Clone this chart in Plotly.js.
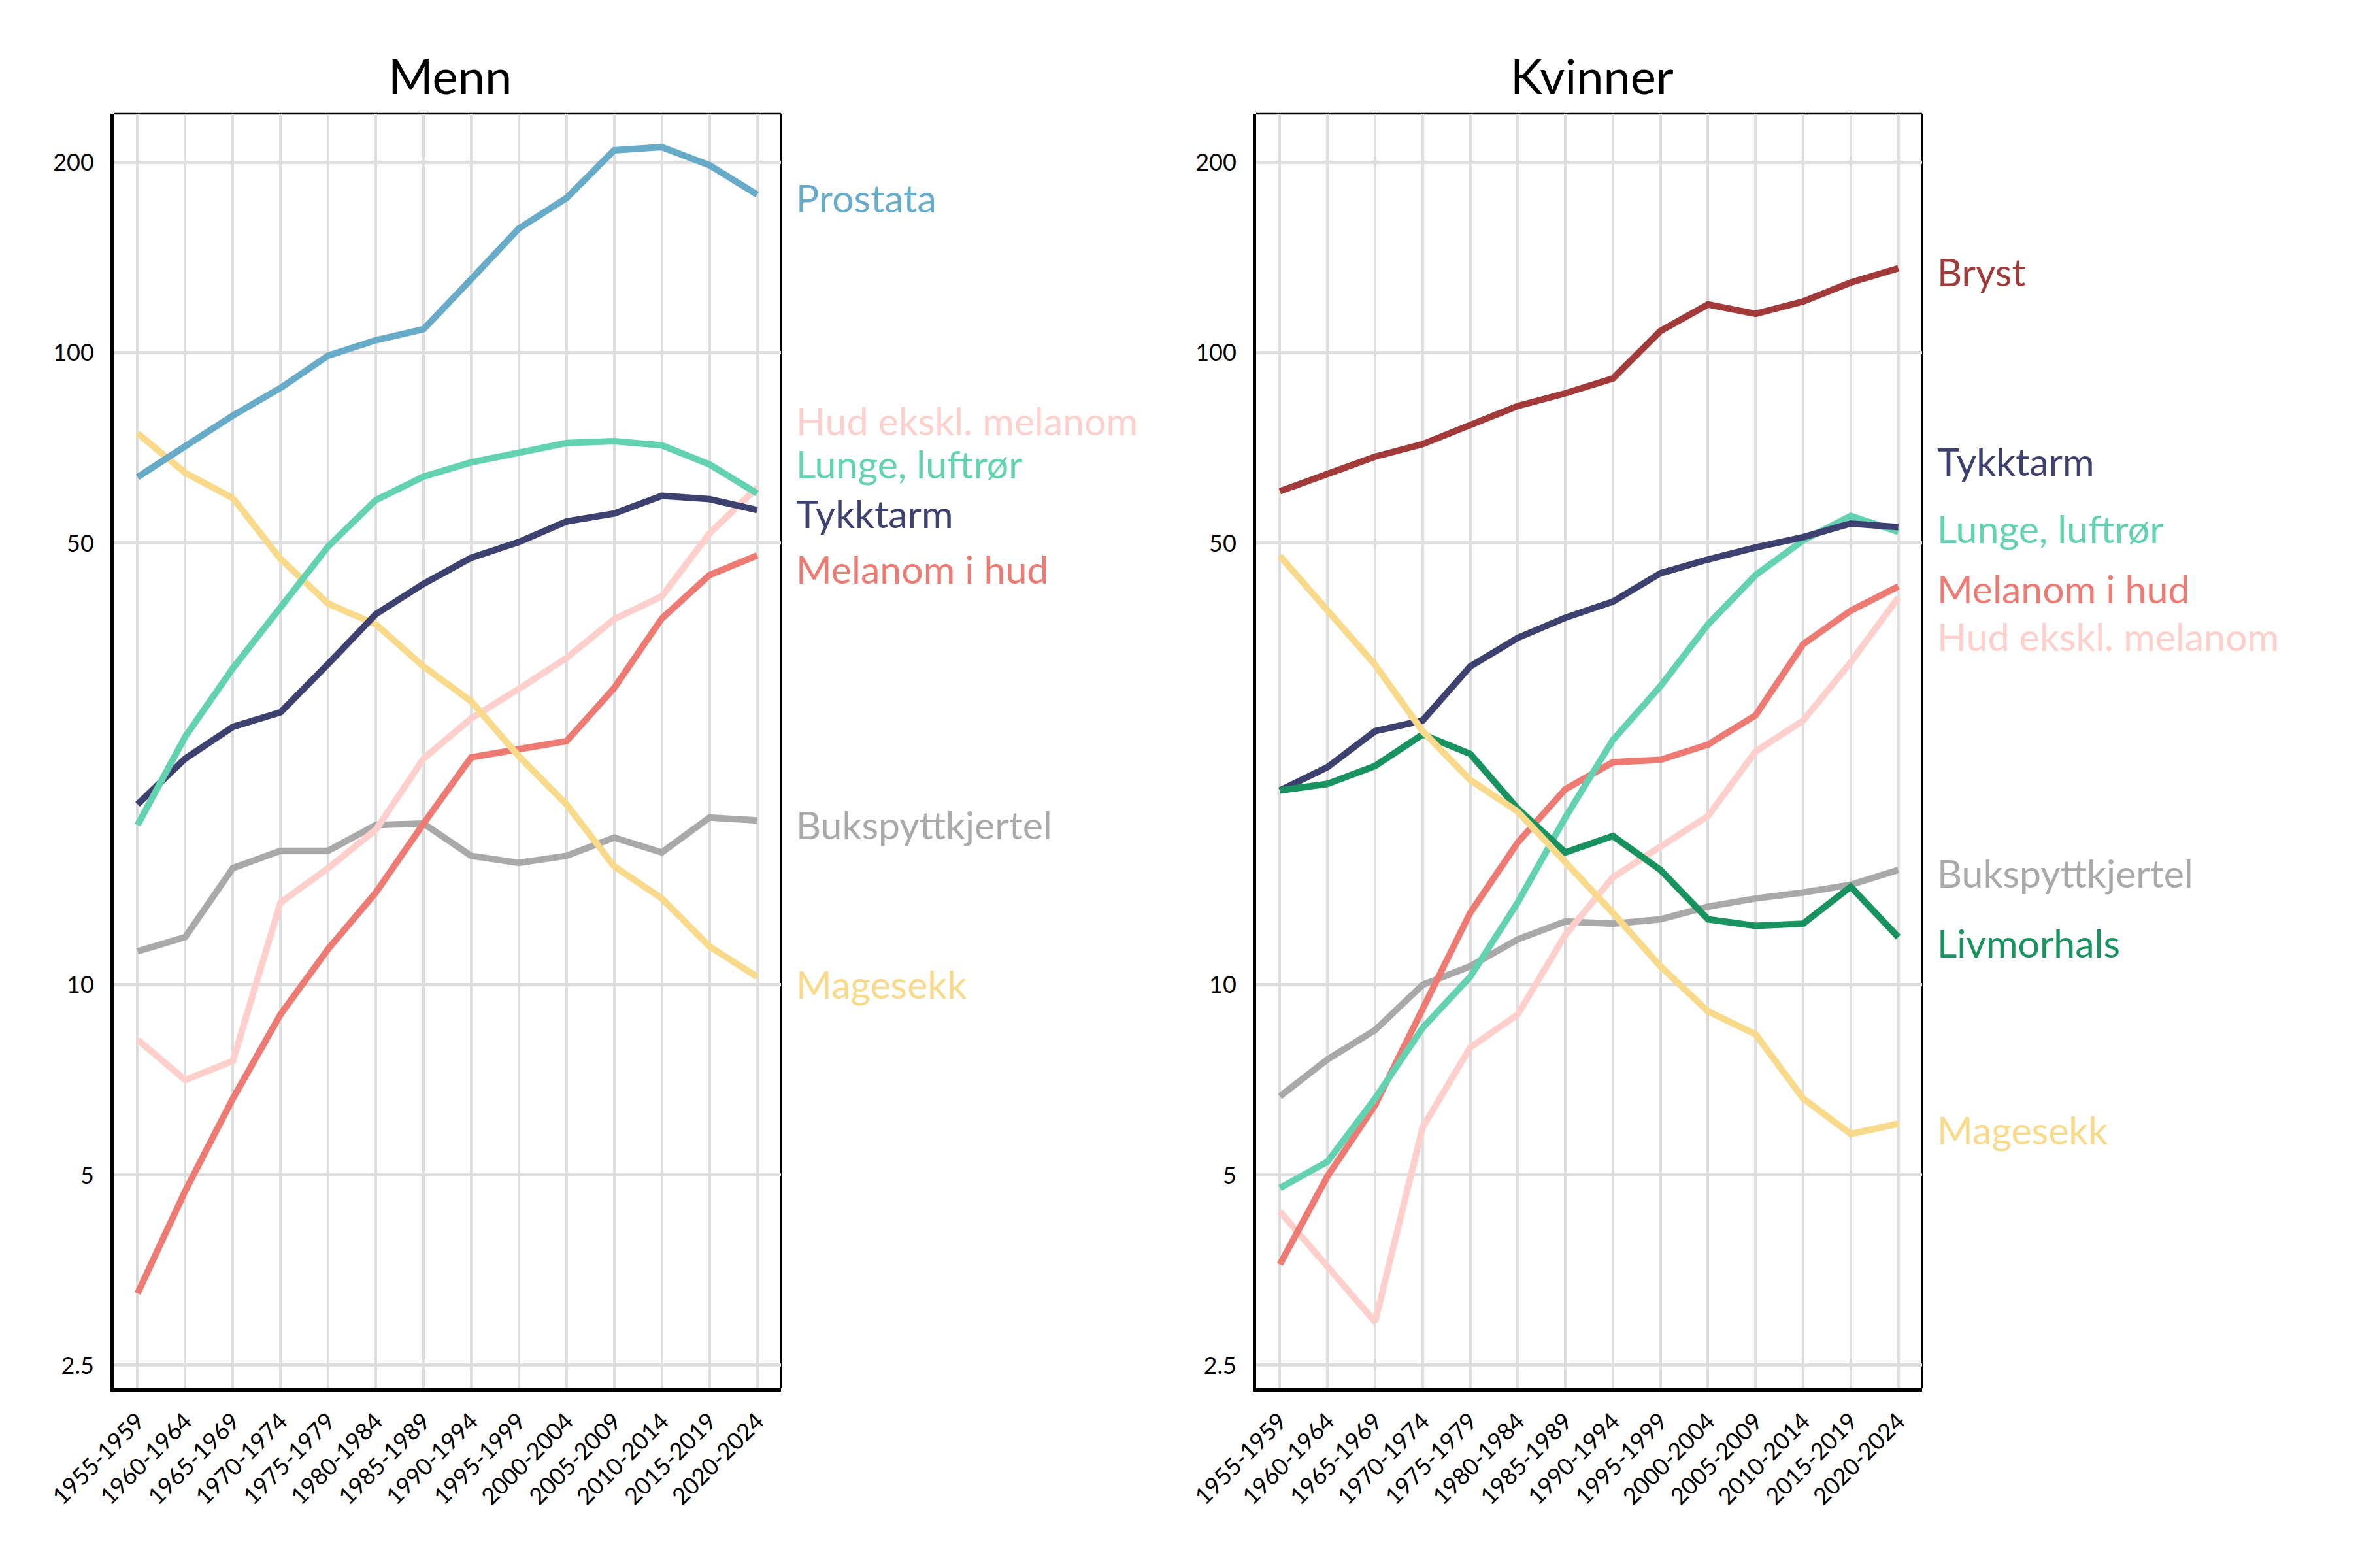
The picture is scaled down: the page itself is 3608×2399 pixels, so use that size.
<!DOCTYPE html>
<html>
<head>
<meta charset="utf-8">
<script src="https://cdn.plot.ly/plotly-3.0.1.min.js"></script>
<style>
  html, body { margin: 0; padding: 0; background: #ffffff; }
  #chart { width: 3608px; height: 2399px; }
</style>
</head>
<body>
<div id="chart"></div>
<script>
// ---------- DATA ----------
const periods = ['1955-1959','1960-1964','1965-1969','1970-1974','1975-1979','1980-1984','1985-1989',
                 '1990-1994','1995-1999','2000-2004','2005-2009','2010-2014','2015-2019','2020-2024'];
const yTickVals = [2.5, 5, 10, 50, 100, 200];
const yTickText = ['2.5', '5', '10', '50', '100', '200'];

// Menn
const mennProstata = [63.6,71.3,79.6,88.0,99.0,104.7,109.0,130.8,157.3,175.8,209.2,211.6,198.1,178.0];
const mennLunge    = [17.9,24.7,31.7,39.4,49.4,58.5,63.7,67.1,69.5,72.0,72.5,71.4,66.6,59.9];
const mennTykktarm = [19.3,22.8,25.6,27.0,32.2,38.6,43.1,47.4,50.2,54.1,55.7,59.4,58.7,56.4];
const mennMagesekk = [74.6,64.6,58.9,47.2,40.1,37.2,31.9,28.1,23.0,19.3,15.4,13.7,11.5,10.3];
const mennHud      = [8.19,7.07,7.58,13.5,15.3,17.6,22.8,26.4,29.4,32.9,37.9,41.2,51.8,61.2];
const mennMelanom  = [3.25,4.72,6.61,8.98,11.4,14.0,18.0,22.9,23.6,24.3,29.5,38.0,44.5,47.8];
const mennBuksp    = [11.3,11.9,15.3,16.3,16.3,17.9,18.0,16.0,15.6,16.0,17.1,16.2,18.4,18.2];

// Kvinner
const kvBryst      = [60.4,64.4,68.5,71.7,77.1,82.4,86.3,91.1,108.3,119.3,115.3,120.6,129.2,136.1];
const kvTykktarm   = [20.3,22.1,25.2,26.2,31.9,35.4,38.1,40.4,44.8,47.1,49.2,51.1,53.7,53.0];
const kvLunge      = [4.77,5.25,6.61,8.55,10.3,13.5,18.4,24.4,29.7,37.2,44.5,50.5,55.2,52.1];
const kvMelanom    = [3.61,4.98,6.45,9.20,13.0,16.8,20.4,22.5,22.7,24.0,26.7,34.6,39.1,42.7];
const kvHud        = [4.38,3.58,2.93,5.95,7.96,8.98,12.0,14.8,16.6,18.5,23.4,26.2,32.4,41.0];
const kvBuksp      = [6.66,7.62,8.48,10.0,10.7,11.8,12.6,12.5,12.7,13.3,13.7,14.0,14.4,15.2];
const kvLivmorhals = [20.3,20.8,22.2,24.9,23.2,19.0,16.2,17.2,15.2,12.7,12.4,12.5,14.3,11.9];
const kvMagesekk   = [47.7,39.1,32.1,25.2,21.1,18.8,15.7,13.0,10.7,9.08,8.35,6.61,5.81,6.03];

// ---------- STYLE ----------
const C = {
  prostata: '#67abc9', lunge: '#62d2b1', tykktarm: '#3d416f', magesekk: '#f8da8a',
  hud: '#ffd0cb', melanom: '#ee7b73', buksp: '#a9a9a9', bryst: '#a33a3a', livmor: '#18935f'
};
const FONT = 'Lato, "Open Sans", sans-serif';
const LW = 10;
const W = 3608, H = 2399;

function line(y, color, xa, ya, name) {
  return { x: periods, y: y, type: 'scatter', mode: 'lines', name: name,
           line: { color: color, width: LW }, xaxis: xa, yaxis: ya, hoverinfo: 'skip', showlegend: false };
}

const traces = [
  line(mennBuksp, C.buksp, 'x', 'y', 'Bukspyttkjertel'),
  line(mennHud, C.hud, 'x', 'y', 'Hud ekskl. melanom'),
  line(mennMelanom, C.melanom, 'x', 'y', 'Melanom i hud'),
  line(mennMagesekk, C.magesekk, 'x', 'y', 'Magesekk'),
  line(mennTykktarm, C.tykktarm, 'x', 'y', 'Tykktarm'),
  line(mennLunge, C.lunge, 'x', 'y', 'Lunge, luftrør'),
  line(mennProstata, C.prostata, 'x', 'y', 'Prostata'),

  line(kvBuksp, C.buksp, 'x2', 'y2', 'Bukspyttkjertel'),
  line(kvHud, C.hud, 'x2', 'y2', 'Hud ekskl. melanom'),
  line(kvMelanom, C.melanom, 'x2', 'y2', 'Melanom i hud'),
  line(kvLunge, C.lunge, 'x2', 'y2', 'Lunge, luftrør'),
  line(kvTykktarm, C.tykktarm, 'x2', 'y2', 'Tykktarm'),
  line(kvLivmorhals, C.livmor, 'x2', 'y2', 'Livmorhals'),
  line(kvMagesekk, C.magesekk, 'x2', 'y2', 'Magesekk'),
  line(kvBryst, C.bryst, 'x2', 'y2', 'Bryst')
];

// plot-area geometry (pixels)
const leftX = [174, 1195], rightX = [1922, 2941];
const plotY = [174, 2124];
const yDomain = [1 - plotY[1] / H, 1 - plotY[0] / H];

function xAxis(dom, anchor) {
  return {
    domain: [dom[0] / W, dom[1] / W], anchor: anchor, type: 'category',
    range: [-0.5, 13.5], showgrid: true, gridcolor: '#dedede', gridwidth: 4,
    showline: true, linecolor: '#000000', linewidth: 5, ticks: '', tickangle: -45,
    tickfont: { family: FONT, size: 36, color: '#000000' }, ticklabelstandoff: 10,
    automargin: false, fixedrange: true, zeroline: false
  };
}
function yAxis(anchor) {
  return {
    domain: yDomain, anchor: anchor, type: 'log',
    range: [Math.log10(2.3), Math.log10(239)],
    tickmode: 'array', tickvals: yTickVals, ticktext: yTickText,
    showgrid: true, gridcolor: '#dedede', gridwidth: 5,
    showline: true, linecolor: '#000000', linewidth: 5, ticks: '',
    tickfont: { family: FONT, size: 36, color: '#000000' }, ticklabelstandoff: 18,
    automargin: false, fixedrange: true, zeroline: false
  };
}

// direct labels at line ends: [text, color, pixel y]
const mennLabels = [
  ['Prostata', C.prostata, 302], ['Hud ekskl. melanom', C.hud, 643], ['Lunge, luftrør', C.lunge, 709],
  ['Tykktarm', C.tykktarm, 786], ['Melanom i hud', C.melanom, 871], ['Bukspyttkjertel', C.buksp, 1261],
  ['Magesekk', C.magesekk, 1505]
];
const kvLabels = [
  ['Bryst', C.bryst, 415], ['Tykktarm', C.tykktarm, 706], ['Lunge, luftrør', C.lunge, 808],
  ['Melanom i hud', C.melanom, 901], ['Hud ekskl. melanom', C.hud, 973], ['Bukspyttkjertel', C.buksp, 1335],
  ['Livmorhals', C.livmor, 1442], ['Magesekk', C.magesekk, 1728]
];
const LABEL_SIZE = 59;
const annotations = [];
function addLabels(list, xPix) {
  list.forEach(([t, col, py]) => annotations.push({
    text: t, xref: 'paper', yref: 'paper', x: xPix / W, y: 1 - py / H,
    xanchor: 'left', yanchor: 'middle', showarrow: false,
    font: { family: FONT, size: LABEL_SIZE, color: col }
  }));
}
addLabels(mennLabels, 1216);
addLabels(kvLabels, 2962);
annotations.push({ text: 'Menn', xref: 'paper', yref: 'paper', x: 688 / W, y: 1 - 116 / H,
  xanchor: 'center', yanchor: 'middle', showarrow: false, font: { family: FONT, size: 74, color: '#000' } });
annotations.push({ text: 'Kvinner', xref: 'paper', yref: 'paper', x: 2436 / W, y: 1 - 116 / H,
  xanchor: 'center', yanchor: 'middle', showarrow: false, font: { family: FONT, size: 74, color: '#000' } });

// thin top / right frame lines (below gridlines)
const shapes = [];
[['x', 'y'], ['x2', 'y2']].forEach(([xa, ya]) => {
  shapes.push({ type: 'line', xref: xa + ' domain', yref: ya + ' domain', x0: 0, x1: 1, y0: 1, y1: 1,
                line: { color: '#000', width: 2.7 }, layer: 'below' });
  shapes.push({ type: 'line', xref: xa + ' domain', yref: ya + ' domain', x0: 1, x1: 1, y0: 0, y1: 1,
                line: { color: '#000', width: 2.7 }, layer: 'below' });
});

const layout = {
  width: W, height: H, margin: { l: 0, r: 0, t: 0, b: 0, pad: 0 },
  paper_bgcolor: '#ffffff', plot_bgcolor: '#ffffff', showlegend: false,
  font: { family: FONT, color: '#000' },
  xaxis: xAxis(leftX, 'y'), yaxis: yAxis('x'),
  xaxis2: xAxis(rightX, 'y2'), yaxis2: yAxis('x2'),
  annotations: annotations, shapes: shapes
};

Plotly.newPlot('chart', traces, layout, { staticPlot: true, displayModeBar: false });
</script>
</body>
</html>
